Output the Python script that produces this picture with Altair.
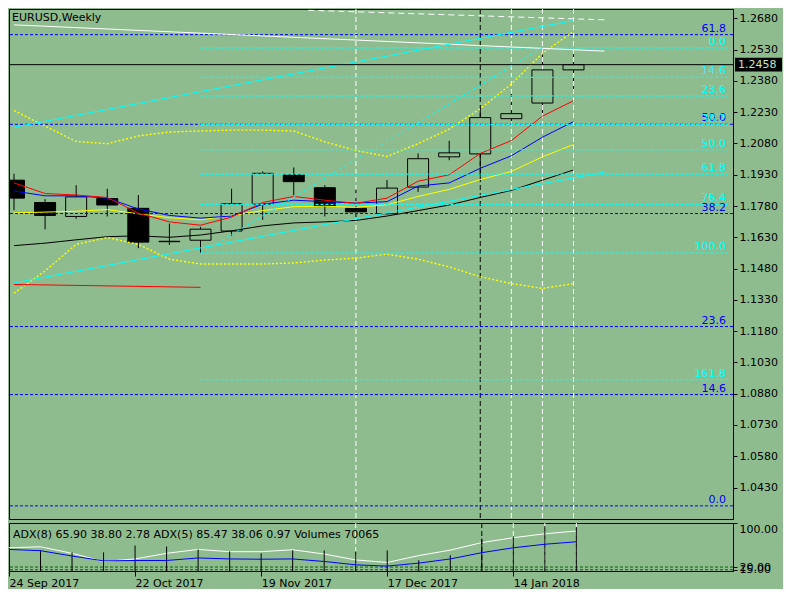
import altair as alt
import pandas as pd

BG = "#8FBC8F"
FONT = "DejaVu Sans"

# ---------------- data ----------------
weeks = ["24 Sep 2017", "1 Oct 2017", "8 Oct 2017", "15 Oct 2017", "22 Oct 2017",
         "29 Oct 2017", "5 Nov 2017", "12 Nov 2017", "19 Nov 2017", "26 Nov 2017",
         "3 Dec 2017", "10 Dec 2017", "17 Dec 2017", "24 Dec 2017", "31 Dec 2017",
         "7 Jan 2018", "14 Jan 2018", "21 Jan 2018", "28 Jan 2018"]
opens = [1.1904, 1.1797, 1.1730, 1.1816, 1.1769, 1.1611, 1.1616, 1.1660, 1.1789, 1.1929,
         1.1868, 1.1769, 1.1743, 1.1871, 1.2016, 1.2030, 1.2199, 1.2274, 1.2433]
highs = [1.1935, 1.1813, 1.1880, 1.1863, 1.1833, 1.1696, 1.1680, 1.1863, 1.1946, 1.1965,
         1.1880, 1.1863, 1.1905, 1.2032, 1.2093, 1.2251, 1.2328, 1.2537, 1.2522]
lows = [1.1760, 1.1668, 1.1719, 1.1730, 1.1578, 1.1594, 1.1555, 1.1638, 1.1714, 1.1832,
        1.1730, 1.1719, 1.1740, 1.1848, 1.2000, 1.1920, 1.2172, 1.2215, 1.2340]
closes = [1.1818, 1.1735, 1.1824, 1.1785, 1.1607, 1.1609, 1.1669, 1.1791, 1.1937, 1.1897,
          1.1779, 1.1752, 1.1866, 1.2007, 1.2035, 1.2204, 1.2223, 1.2433, 1.2458]

ma_red = [1.1891, 1.1840, 1.1833, 1.1821, 1.1746, 1.1704, 1.1688, 1.1727, 1.1797, 1.1826,
          1.1808, 1.1793, 1.1818, 1.1899, 1.1930, 1.2032, 1.2094, 1.2211, 1.2285]
ma_blue = [1.1852, 1.1829, 1.1829, 1.1818, 1.1766, 1.1735, 1.1722, 1.1732, 1.1789, 1.1808,
           1.1801, 1.1794, 1.1801, 1.1876, 1.1891, 1.1961, 1.2021, 1.2110, 1.2185]
ma_yellow = [1.1747, 1.1751, 1.1755, 1.1763, 1.1743, 1.1724, 1.1714, 1.1735, 1.1758, 1.1777,
             1.1779, 1.1774, 1.1786, 1.1826, 1.1860, 1.1907, 1.1946, 1.2016, 1.2075]
ma_black = [1.1590, 1.1602, 1.1618, 1.1633, 1.1637, 1.1630, 1.1641, 1.1661, 1.1685, 1.1699,
            1.1704, 1.1711, 1.1732, 1.1758, 1.1785, 1.1821, 1.1855, 1.1904, 1.1953]
bb_upper = [1.2238, 1.2163, 1.2090, 1.2079, 1.2116, 1.2135, 1.2140, 1.2144, 1.2144, 1.2140,
            1.2088, 1.2046, 1.2018, 1.2079, 1.2149, 1.2247, 1.2365, 1.2512, 1.2618]
bb_lower = [1.1362, 1.1469, 1.1596, 1.1629, 1.1596, 1.1525, 1.1502, 1.1502, 1.1502, 1.1507,
            1.1521, 1.1530, 1.1549, 1.1525, 1.1488, 1.1441, 1.1408, 1.1385, 1.1408]

adx_white = [55.0, 56.8, 44.9, 30.1, 34.7, 44.9, 52.0, 47.9, 47.9, 51.4,
             43.6, 32.9, 28.3, 40.8, 50.7, 64.4, 73.3, 80.4, 85.47]
adx_blue = [52.0, 49.7, 40.0, 31.2, 31.9, 31.9, 36.5, 34.7, 34.2, 34.7,
            30.1, 24.0, 21.7, 27.1, 34.7, 46.1, 55.0, 61.4, 65.90]
volumes = [36000, 32700, 29600, 29600, 40500, 38900, 34300, 31100, 28000, 32700,
           32700, 31100, 32700, 17100, 24900, 51400, 54500, 71600, 70065]

price_ticks = [1.0430, 1.0580, 1.0730, 1.0880, 1.1030, 1.1180, 1.1330, 1.1480,
               1.1630, 1.1780, 1.1930, 1.2080, 1.2230, 1.2380, 1.2530, 1.2680]
tick_idx = [0, 4, 8, 12, 16]
tick_labels = ["24 Sep 2017", "22 Oct 2017", "19 Nov 2017", "17 Dec 2017", "14 Jan 2018"]

fibo_blue_levels = [1.2602, 1.2172, 1.1744, 1.1202, 1.0876, 1.0342]
fibo_blue_labels = ["61.8", "50.0", "38.2", "23.6", "14.6", "0.0"]
fibo_cyan_levels = [1.2539, 1.2397, 1.2308, 1.2170, 1.2050, 1.1933, 1.1788, 1.1554, 1.0947]
fibo_cyan_labels = ["0.0", "14.6", "23.6", "38.2", "50.0", "61.8", "76.4", "100.0", "161.8"]
fibo_cyan_start = 6

current_price = 1.2458
vlines_white_idx = [11, 16, 17, 18]
vlines_black_idx = [15]

tl_white_idx, tl_white_val = [0, 19.0], [1.2649, 1.2523]
tl_wdash_idx, tl_wdash_val = [9.47, 19.0], [1.2719, 1.2673]
tl_cup_idx, tl_cup_val = [0, 17.97], [1.2158, 1.2669]
tl_clo_idx, tl_clo_val = [0, 19.0], [1.1411, 1.1943]
tl_red_idx, tl_red_val = [0, 6.0], [1.1404, 1.1390]
tl_diag_idx, tl_diag_val = [6.0, 17.0], [1.1554, 1.2539]

adx_levels = [20, 15]
adx_axis_values = [100, 20, 15]
adx_title = "ADX(8) 65.90 38.80 2.78 ADX(5) 85.47 38.06 0.97 Volumes 70065"

# ---------------- layout ----------------
W, H1, H2 = 724, 510, 48
XMAX = 22.97
xs = alt.Scale(domain=[0, XMAX], nice=False, zero=False)
ys = alt.Scale(domain=[1.0279, 1.2725], nice=False, zero=False)
ys2 = alt.Scale(domain=[12.8, 100], nice=False, zero=False)
vs = alt.Scale(domain=[0, 76300], nice=False, zero=True)

idx = list(range(len(opens)))
X = alt.X("idx:Q", scale=xs, axis=None)


def Yp(field):
    return alt.Y(field, scale=ys, axis=None)


cdf = pd.DataFrame({"idx": idx, "open": opens, "high": highs, "low": lows, "close": closes,
                    "week": weeks})
cdf["dir"] = ["up" if c >= o else "down" for o, c in zip(opens, closes)]

yaxis = alt.Axis(orient="right", values=price_ticks, format=".4f", tickSize=4,
                 tickColor="black", domain=True, domainColor="black", labelFont=FONT,
                 labelFontSize=11, labelColor="black", labelPadding=2, grid=False,
                 labelOverlap=False, labelFlush=False, title=None)


def vlines(idx_list, color):
    df = pd.DataFrame({"idx": idx_list})
    return alt.Chart(df).mark_rule(color=color, strokeDash=[5, 3], strokeWidth=1).encode(x=X)


def series_line(vals, color, dash=None, width=1):
    df = pd.DataFrame({"idx": list(range(len(vals))), "v": vals})
    kw = dict(color=color, strokeWidth=width, clip=True)
    if dash:
        kw["strokeDash"] = dash
    return alt.Chart(df).mark_line(**kw).encode(x=X, y=Yp("v:Q"))


def trend(ix, vals, color, dash=None):
    df = pd.DataFrame({"idx": ix, "v": vals})
    kw = dict(color=color, strokeWidth=1, clip=True)
    if dash:
        kw["strokeDash"] = dash
    return alt.Chart(df).mark_line(**kw).encode(x=X, y=Yp("v:Q"))


wicks = alt.Chart(cdf).mark_rule(color="black", strokeWidth=1, clip=True).encode(
    x=X, y=alt.Y("low:Q", scale=ys, axis=yaxis), y2="high:Q")
bodies = alt.Chart(cdf).mark_bar(width=21, stroke="black", strokeWidth=1, clip=True).encode(
    x=X, y=Yp("open:Q"), y2="close:Q",
    fill=alt.Fill("dir:N", scale=alt.Scale(domain=["up", "down"], range=[BG, "black"]),
                  legend=None))

fb = pd.DataFrame({"v": fibo_blue_levels, "lab": fibo_blue_labels, "xr": XMAX})
fc = pd.DataFrame({"v": fibo_cyan_levels, "lab": fibo_cyan_labels, "xr": XMAX,
                   "x0": fibo_cyan_start})
blue_rules = alt.Chart(fb).mark_rule(color="#0000FF", strokeDash=[3, 2], strokeWidth=1).encode(
    y=Yp("v:Q"))
cyan_rules = alt.Chart(fc).mark_rule(color="#00FFFF", strokeDash=[3, 2], strokeWidth=1.2).encode(
    x=alt.X("x0:Q", scale=xs, axis=None), x2="xr:Q", y=Yp("v:Q"))


def fibo_text(df, color):
    return alt.Chart(df).mark_text(color=color, align="right", baseline="alphabetic", dx=-2,
                                   dy=-3, font=FONT, fontSize=11).encode(
        x=alt.X("xr:Q", scale=xs, axis=None), y=Yp("v:Q"), text="lab:N")


pdf = pd.DataFrame({"v": [current_price], "lab": [f"{current_price:.4f}"]})
price_rule = alt.Chart(pdf).mark_rule(color="black", strokeWidth=1).encode(y=Yp("v:Q"))
price_box = alt.Chart(pdf).mark_point(shape="M-1,-0.29L1,-0.29L1,0.29L-1,0.29Z", filled=True,
                                      color="black", opacity=1, size=47 * 47,
                                      strokeWidth=0).encode(
    x=alt.value(W + 2 + 23.5), y=Yp("v:Q"))
price_text = alt.Chart(pdf).mark_text(align="left", baseline="middle", color="#c8e0c8",
                                      font=FONT, fontSize=11).encode(
    x=alt.value(W + 5), y=Yp("v:Q"), text="lab:N")

title_txt = alt.Chart(pd.DataFrame({"t": ["EURUSD,Weekly"]})).mark_text(
    align="left", baseline="top", color="black", font=FONT, fontSize=11).encode(
    x=alt.value(3), y=alt.value(3), text="t:N")

main = alt.layer(
    wicks,
    vlines(vlines_white_idx, "white"),
    vlines(vlines_black_idx, "black"),
    bodies,
    series_line(ma_black, "black"),
    series_line(ma_yellow, "#FFFF00"),
    series_line(ma_blue, "#0000FF"),
    series_line(ma_red, "#FF0000"),
    series_line(bb_upper, "#FFFF00", [2, 2], 1.4),
    series_line(bb_lower, "#FFFF00", [2, 2], 1.4),
    blue_rules, cyan_rules,
    trend(tl_white_idx, tl_white_val, "white"),
    trend(tl_wdash_idx, tl_wdash_val, "white", [6, 4]),
    trend(tl_cup_idx, tl_cup_val, "#00FFFF"),
    trend(tl_clo_idx, tl_clo_val, "#00FFFF"),
    trend(tl_red_idx, tl_red_val, "#FF0000"),
    trend(tl_diag_idx, tl_diag_val, "#00FFFF", [3, 3]),
    price_rule,
    fibo_text(fb, "#0000FF"), fibo_text(fc, "#00FFFF"),
    title_txt, price_box, price_text,
).resolve_axis(x="independent", y="independent").properties(width=W, height=H1)

# ---------------- ADX / volume pane ----------------
label_expr = " : ".join(f"datum.value == {i} ? '{l}'" for i, l in zip(tick_idx, tick_labels)) + " : ''"
xaxis = alt.Axis(values=tick_idx, labelExpr=label_expr, tickSize=5, tickColor="black",
                 domain=False, grid=False, labelFont=FONT, labelFontSize=11,
                 labelColor="black", labelAlign="left", labelPadding=1, labelFlush=False,
                 labelOverlap=False, title=None)
y2axis = alt.Axis(orient="right", values=adx_axis_values, format=".2f", tickSize=4,
                  tickColor="black", domain=True, domainColor="black", labelFont=FONT,
                  labelFontSize=11, labelColor="black", labelPadding=2, grid=False,
                  labelOverlap=False, labelFlush=True, title=None)

adf = pd.DataFrame({"idx": idx, "a": adx_white, "b": adx_blue, "vol": volumes, "base": 0})
lev = pd.DataFrame({"v": adx_levels})

adx_w = alt.Chart(adf).mark_line(color="white", strokeWidth=1, clip=True).encode(
    x=alt.X("idx:Q", scale=xs, axis=xaxis), y=alt.Y("a:Q", scale=ys2, axis=y2axis))
adx_b = alt.Chart(adf).mark_line(color="#0000FF", strokeWidth=1, clip=True).encode(
    x=X, y=alt.Y("b:Q", scale=ys2, axis=None))
lev_rules = alt.Chart(lev).mark_rule(color="#006400", strokeDash=[3, 2], strokeWidth=1).encode(
    y=alt.Y("v:Q", scale=ys2, axis=None))
vol = alt.Chart(adf).mark_rule(color="black", strokeWidth=1, clip=True).encode(
    x=X, y=alt.Y("vol:Q", scale=vs, axis=None), y2="base:Q")
adx_txt = alt.Chart(pd.DataFrame({"t": [adx_title]})).mark_text(
    align="left", baseline="top", color="black", font=FONT, fontSize=11).encode(
    x=alt.value(4), y=alt.value(6), text="t:N")

sub = alt.layer(
    adx_w,
    vlines(vlines_white_idx, "white"),
    vlines(vlines_black_idx, "black"),
    lev_rules, vol, adx_b, adx_txt,
).resolve_scale(y="independent").resolve_axis(x="independent").properties(width=W, height=H2)

chart = alt.vconcat(main, sub, spacing=2).properties(
    padding=0, background=BG
).configure_view(stroke="black", strokeWidth=1)

chart.save("out.html", embed_options={"renderer": "svg", "actions": False})
